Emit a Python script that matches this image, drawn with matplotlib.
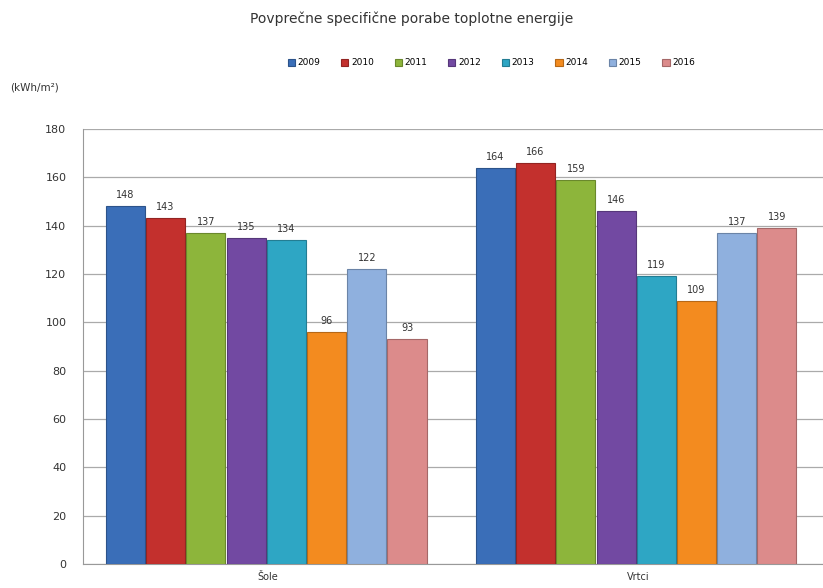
import matplotlib
matplotlib.use("Agg")
import matplotlib.pyplot as plt
import numpy as np
from matplotlib.colors import to_rgb

categories = ["Šole", "Vrtci"]
years = ["2009", "2010", "2011", "2012", "2013", "2014", "2015", "2016"]
values = {
    "2009": [148, 164],
    "2010": [143, 166],
    "2011": [137, 159],
    "2012": [135, 146],
    "2013": [134, 119],
    "2014": [96, 109],
    "2015": [122, 137],
    "2016": [93, 139],
}
colors = ["#3A6EB8", "#C3302D", "#8DB53B", "#7249A2", "#2EA6C4", "#F38B1F", "#8FB0DE", "#DC8B8B"]
yticks = [0, 20, 40, 60, 80, 100, 120, 140, 160, 180]

fig = plt.figure(figsize=(8.23, 5.88), dpi=100)
ax = fig.add_axes([0.1009, 0.0408, 0.8991, 0.7398])

n = len(years)
width = 0.87 / n
x = np.arange(len(categories))
for i, (yr, c) in enumerate(zip(years, colors)):
    pos = x - 0.44 + width * (i + 0.5)
    edge = tuple(v * 0.75 for v in to_rgb(c))
    bars = ax.bar(pos, values[yr], width=width * 0.97, color=c, edgecolor=edge,
                  linewidth=0.8, label=yr, zorder=3)
    for b, v in zip(bars, values[yr]):
        ax.text(b.get_x() + b.get_width() / 2, v + 2.5, str(v), ha="center",
                va="bottom", fontsize=7, color="#333333", zorder=4)

ax.set_xlim(-0.5, 1.5)
ax.set_ylim(0, 180)
ax.set_yticks(yticks)
ax.set_xticks(x)
ax.set_xticklabels(categories, fontsize=7, color="#333333")
ax.tick_params(axis="y", labelsize=8, colors="#333333", length=0, pad=12)
ax.tick_params(axis="x", length=0, pad=6)
ax.grid(axis="y", color="#AAAAAA", linewidth=0.9, zorder=0)
for s in ["top", "right"]:
    ax.spines[s].set_visible(False)
ax.spines["left"].set_color("#999999")
ax.spines["bottom"].set_color("#999999")

fig.text(0.50, 0.968, "Povprečne specifične porabe toplotne energije", ha="center",
         va="center", fontsize=10, color="#333333")
fig.text(0.012, 0.851, "(kWh/m²)", ha="left", va="center", fontsize=7.5, color="#333333")

leg = fig.legend(loc="center", bbox_to_anchor=(0.597, 0.893), ncol=8, frameon=False,
                 fontsize=6.5, handlelength=0.8, handleheight=0.8, columnspacing=2.3,
                 handletextpad=0.3)

fig.savefig("out.png", dpi=100)
